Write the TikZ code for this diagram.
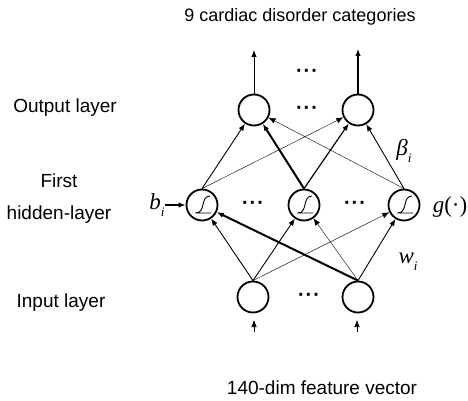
\documentclass[tikz,border=0pt]{standalone}
\usepackage{fontspec}
\setmainfont{Liberation Sans}
\newfontfamily\tms{Liberation Serif}
\usetikzlibrary{arrows.meta}
\begin{document}
\begin{tikzpicture}[x=1pt,y=-1pt,
  neuron/.style={circle,draw,line width=1.8pt,minimum size=31pt,inner sep=0pt},
  lbl/.style={font=\fontsize{19}{32}\selectfont,inner sep=0pt},
  mlbl/.style={font=\tms\fontsize{23}{23}\selectfont,inner sep=0pt},
  dotsn/.style={font=\bfseries\fontsize{20}{20}\selectfont,inner sep=0pt},
  tip/.style={-{Latex[length=7pt,width=5.5pt]}},
  thinE/.style={tip,line width=0.4pt},
  midE/.style={tip,line width=0.9pt},
  medE/.style={tip,line width=1.2pt},
  thickE/.style={tip,line width=2pt}]
\useasboundingbox (0,0) rectangle (468,401);
% neurons
\node[neuron] (o1) at (254,110) {};
\node[neuron] (o2) at (358,110) {};
\node[neuron] (h1) at (202,205) {};
\node[neuron] (h2) at (304,205) {};
\node[neuron] (h3) at (404,205) {};
\node[neuron] (i1) at (253,297) {};
\node[neuron] (i2) at (358,297) {};
% sigmoid glyphs
\foreach \n in {h1,h2,h3}{
  \draw[line width=0.9pt,shift={(\n.center)}] (-7,8) -- (9,8)
    (-6,8) .. controls (4,8) and (-2,-9) .. (8,-9);
}
% texts
\node[lbl,font=\fontsize{18}{22}\selectfont] (title) at (300,17) {9 cardiac disorder categories};
\node[lbl] (lout) at (65,108) {Output layer};
\node[lbl,align=center] (lhid) at (59,199) {First\\hidden-layer};
\node[lbl] (lin) at (61,303) {Input layer};
\node[lbl] (lfeat) at (322,388) {140-dim feature vector};
\node[mlbl] (b) at (157,205) {\itshape b\raisebox{-0.3em}{\fontsize{13}{13}\selectfont i}};
\node[mlbl] (g) at (450,207) {{\itshape g}(·)};
\node[mlbl] (beta) at (404,151) {\itshape β\raisebox{-0.3em}{\fontsize{13}{13}\selectfont i}};
\node[mlbl] (w) at (408,262) {\itshape w\raisebox{-0.3em}{\fontsize{13}{13}\selectfont i}};
% dots
\node[dotsn] (d1) at (307,73) {·\hspace{1pt}·\hspace{1pt}·};
\node[dotsn] (d2) at (307,110) {·\hspace{1pt}·\hspace{1pt}·};
\node[dotsn] (d3) at (253,205) {·\hspace{1pt}·\hspace{1pt}·};
\node[dotsn] (d4) at (355,205) {·\hspace{1pt}·\hspace{1pt}·};
\node[dotsn] (d5) at (309,297) {·\hspace{1pt}·\hspace{1pt}·};
% output arrows
\coordinate (t1) at (254,50);
\coordinate (t2) at (358,49);
\draw[midE] (o1.north) -- (t1);
\draw[medE] (o2.north) -- (t2);
% input arrows
\coordinate (s1) at (254,332);
\coordinate (e1) at (254,320);
\coordinate (s2) at (357,332);
\coordinate (e2) at (357,320);
\draw[tip,line width=0.6pt] (s1) -- (e1);
\draw[tip,line width=0.6pt] (s2) -- (e2);
% bias arrow
\draw[tip,line width=1.4pt] (b) -- (h1);
% hidden -> output
\draw[midE] (h1.north) -- (o1);
\draw[thinE] (h1.north) -- (o2);
\draw[thickE] (h2.north) -- (o1);
\draw[medE] (h2.north) -- (o2);
\draw[thinE] (h3.north) -- (o1);
\draw[midE] (h3.north) -- (o2);
% input -> hidden
\draw[midE] (i1.north) -- (h1);
\draw[midE] (i1.north) -- (h2);
\draw[thinE] (i1.north) -- (h3);
\draw[thickE] (i2.north) -- (h1);
\draw[thinE] (i2.north) -- (h2);
\draw[midE] (i2.north) -- (h3);
\end{tikzpicture}
\end{document}
